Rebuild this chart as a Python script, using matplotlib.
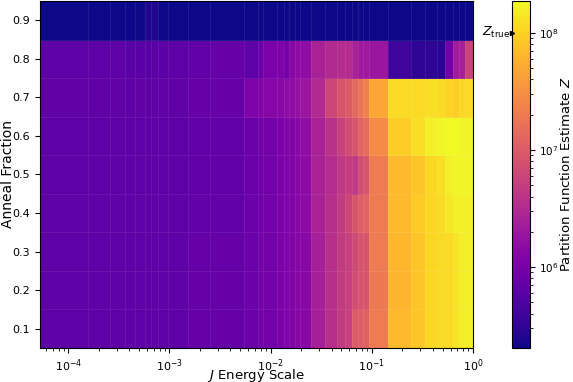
import numpy as np
import matplotlib
matplotlib.use('Agg')
import matplotlib.pyplot as plt
from matplotlib.colors import LogNorm
import matplotlib.transforms as mtransforms

# J bin edges (energy scale)
J_edges = [5.25e-5, 1.57e-4, 2.60e-4, 3.61e-4, 4.60e-4, 5.70e-4, 6.63e-4, 7.71e-4,
           9.75e-4, 1.54e-3, 2.52e-3, 5.51e-3, 7.58e-3, 8.49e-3, 1.15e-2, 1.34e-2,
           1.53e-2, 1.76e-2, 1.93e-2, 2.48e-2, 3.48e-2, 4.52e-2, 5.46e-2, 6.44e-2,
           7.38e-2, 8.27e-2, 9.27e-2, 0.146, 0.245, 0.337, 0.440, 0.532, 0.634,
           0.721, 0.826, 1.0]

anneal_fractions = [0.1, 0.2, 0.3, 0.4, 0.5, 0.6, 0.7, 0.8, 0.9]

# log10 of the partition function estimate per cell (one list per anneal fraction)
logZ_01 = [5.81]*9 + [5.87, 5.87, 5.90, 5.96, 5.96, 6.02, 6.05, 6.08, 6.11, 6.14, 6.38,
                      6.55, 6.67, 6.73, 7.00, 7.03, 7.06, 7.32, 7.83, 7.91, 8.03, 8.06,
                      8.06, 8.12, 8.18, 8.21]
logZ_02 = [5.81]*9 + [5.87, 5.87, 5.90, 5.96, 5.96, 6.02, 6.05, 6.08, 6.11, 6.14, 6.38,
                      6.55, 6.67, 6.73, 6.85, 6.94, 6.94, 7.28, 7.78, 7.91, 8.03, 8.06,
                      8.06, 8.12, 8.18, 8.21]
logZ_03 = [5.81]*9 + [5.87, 5.87, 5.90, 5.96, 5.96, 6.02, 6.05, 6.08, 6.11, 6.14, 6.38,
                      6.55, 6.67, 6.73, 6.82, 6.94, 6.94, 7.30, 7.80, 7.91, 8.03, 8.06,
                      8.06, 8.12, 8.18, 8.21]
logZ_04 = [5.81]*9 + [5.84, 5.84, 5.90, 5.93, 5.96, 6.02, 6.05, 6.08, 6.11, 6.17, 6.41,
                      6.55, 6.67, 6.79, 6.94, 7.03, 7.09, 7.32, 7.83, 7.94, 8.03, 8.06,
                      8.15, 8.21, 8.21, 8.21]
logZ_05 = [5.81]*9 + [5.84, 5.84, 5.90, 5.93, 5.96, 6.02, 6.05, 6.08, 6.11, 6.17, 6.41,
                      6.52, 6.64, 6.70, 6.64, 6.85, 6.94, 7.32, 7.83, 7.91, 8.03, 8.09,
                      8.21, 8.24, 8.24, 8.24]
logZ_06 = [5.81]*9 + [5.84, 5.84, 5.90, 5.96, 5.96, 6.02, 6.08, 6.08, 6.14, 6.20, 6.41,
                      6.58, 6.73, 6.85, 6.94, 7.09, 7.15, 7.44, 7.97, 8.09, 8.21, 8.24,
                      8.27, 8.27, 8.24, 8.24]
logZ_07 = [5.83]*9 + [5.87, 5.87, 6.05, 6.08, 6.11, 6.14, 6.17, 6.20, 6.23, 6.29, 6.49,
                      6.79, 6.94, 7.00, 7.12, 7.23, 7.35, 7.68, 8.06, 8.06, 8.09, 8.06,
                      8.00, 7.97, 8.03, 8.06]
logZ_08 = [5.81, 5.81, 5.81, 5.78, 5.78, 5.78, 5.78, 5.79, 5.81, 5.84, 5.87, 5.81, 5.90,
           6.02, 6.05, 5.96, 6.11, 6.17, 6.20, 6.41, 6.49, 6.52, 6.52, 6.41, 6.32, 6.32,
           6.29, 5.58, 5.49, 5.49, 5.46, 5.96, 6.35, 6.38, 6.76]
logZ_09 = [5.31]*5 + [5.40, 5.40] + [5.31]*28

Z_true = 1.0e8

rows = [logZ_01, logZ_02, logZ_03, logZ_04, logZ_05, logZ_06, logZ_07, logZ_08, logZ_09]
Z = 10.0 ** np.array(rows)

yc = np.array(anneal_fractions)
half = (yc[1] - yc[0]) / 2
y_edges = np.concatenate([yc - half, [yc[-1] + half]])

plt.rcParams['font.family'] = ['DejaVu Sans']
plt.rcParams['font.size'] = 10
plt.rcParams['xtick.labelsize'] = 8
plt.rcParams['ytick.labelsize'] = 8

fig = plt.figure(figsize=(5.73, 3.82), dpi=100)
ax = fig.add_axes([0.0698, 0.0890, 0.7557, 0.9084])
cax = fig.add_axes([0.8936, 0.0890, 0.0309, 0.9084])

norm = LogNorm(vmin=Z.min(), vmax=Z.max())
mesh = ax.pcolormesh(np.array(J_edges), y_edges, Z, cmap='plasma', norm=norm,
                     shading='flat', edgecolors=(1, 1, 1, 0.08), linewidth=0.5)
ax.set_xscale('log')
ax.set_xlim(J_edges[0], J_edges[-1])
ax.set_ylim(y_edges[0], y_edges[-1])
ax.set_yticks(anneal_fractions)
ax.set_xlabel(r'$J$ Energy Scale', fontsize=9.5)
ax.set_ylabel('Anneal Fraction')
ax.yaxis.set_label_coords(-0.058, 0.5)
ax.xaxis.set_label_coords(0.5, -0.054)

cb = fig.colorbar(mesh, cax=cax)
cb.set_label(r'Partition Function Estimate $Z$', fontsize=9.5)
cax.tick_params(labelsize=7.5)
cax.yaxis.set_label_coords(2.68, 0.5)
cb.outline.set_linewidth(0.8)

trans = mtransforms.blended_transform_factory(cax.transAxes, cax.transData)
cax.plot([0.0], [Z_true], marker='>', color='k', markersize=3, transform=trans,
         clip_on=False)
cax.text(-0.12, Z_true, r'$Z_{\rm true}$', transform=trans, ha='right', va='center',
         fontsize=9)

fig.savefig('out.png', dpi=100)
